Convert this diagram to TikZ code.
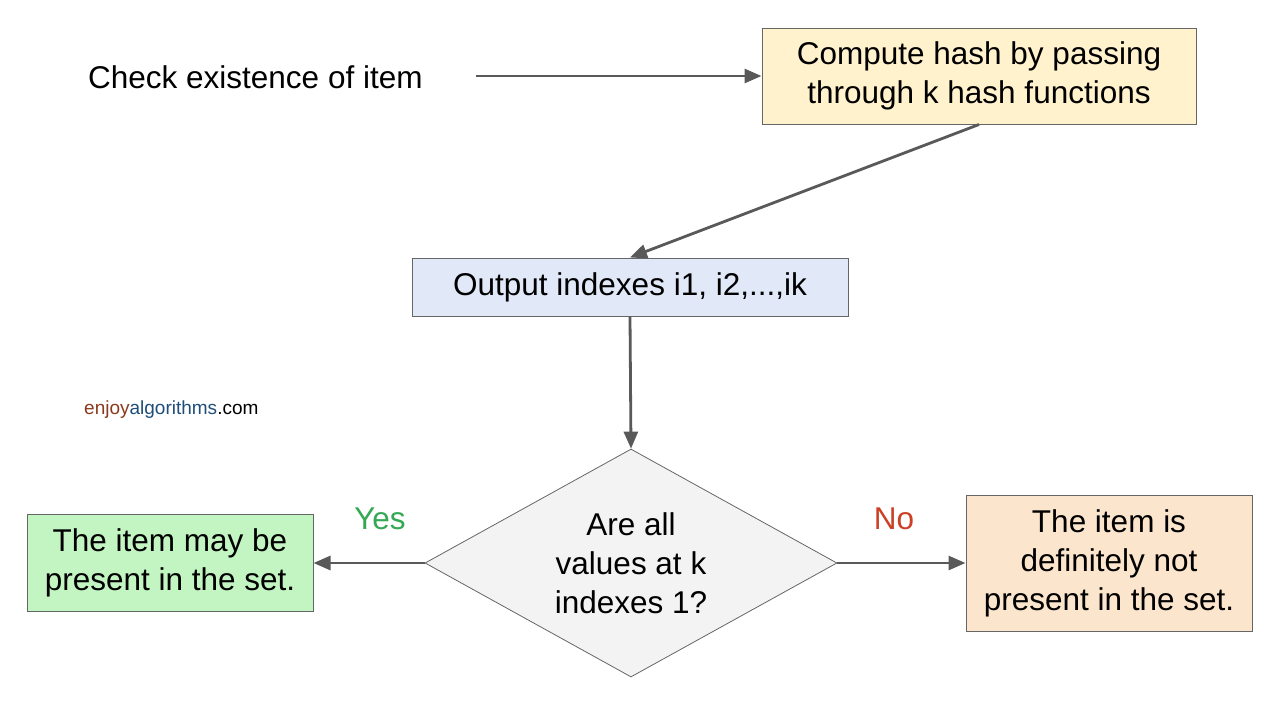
\documentclass[tikz,border=0pt]{standalone}
\usepackage{fontspec}
\setmainfont{Liberation Sans}
\usetikzlibrary{shapes.geometric,arrows.meta}
\definecolor{linec}{HTML}{595959}
\definecolor{boxborder}{HTML}{666666}
\definecolor{yel}{HTML}{FFF2CC}
\definecolor{blu}{HTML}{E1E8F8}
\definecolor{grn}{HTML}{C2F5C2}
\definecolor{org}{HTML}{FCE5CD}
\definecolor{dia}{HTML}{F3F3F3}
\definecolor{yesc}{HTML}{34A853}
\definecolor{noc}{HTML}{CC4125}
\definecolor{enj}{HTML}{8B3A1E}
\definecolor{alg}{HTML}{1F4E79}
\tikzset{
  big/.style={font=\fontsize{31.5}{39}\selectfont, align=center},
  box/.style={big, draw=boxborder, line width=1pt, inner sep=0pt, rectangle},
  conn/.style={draw=linec, line width=2.8pt, -{Triangle[length=17pt,width=14pt]}},
}
\begin{document}
\begin{tikzpicture}[x=1pt,y=-1pt]
\useasboundingbox (0,0) rectangle (1280,720);
\fill[white] (0,0) rectangle (1280,720);
\node[big, anchor=west, inner sep=0pt] (check) at (88,77) {Check existence of item};
\coordinate (cstart) at (476,76);
\node[box, fill=yel, minimum width=434pt, minimum height=96pt] (box1) at (979,76) {Compute hash by passing\\through k hash functions};
\node[box, fill=blu, minimum width=436pt, minimum height=58pt] (box2) at (630,287) {Output indexes i1, i2,...,ik};
\node[big, diamond, draw=boxborder, line width=0.8pt, fill=dia, aspect=1.8, inner sep=0pt, minimum width=412pt, minimum height=228pt] (dec) at (631,563) {Are all\\values at k\\indexes 1?};
\node[box, fill=grn, minimum width=286pt, minimum height=97pt] (yesbox) at (170,563) {The item may be\\present in the set.};
\node[box, fill=org, minimum width=286pt, minimum height=136pt] (nobox) at (1109,563) {The item is\\definitely not\\present in the set.};
\node[big, text=yesc] (yes) at (380,519) {Yes};
\node[big, text=noc] (no) at (894,519) {No};
\node[anchor=west, font=\fontsize{19}{22}\selectfont, inner sep=0pt] (wm) at (84,410) {\textcolor{enj}{enjoy}\textcolor{alg}{algorithms}.com};
\draw[conn] (cstart) -- (box1.west);
\draw[conn] (box1.south) -- (box2.north);
\draw[conn] (box2.south) -- (dec.north);
\draw[conn] (dec.west) -- (yesbox.east);
\draw[conn] (dec.east) -- (nobox.west);
\end{tikzpicture}
\end{document}
